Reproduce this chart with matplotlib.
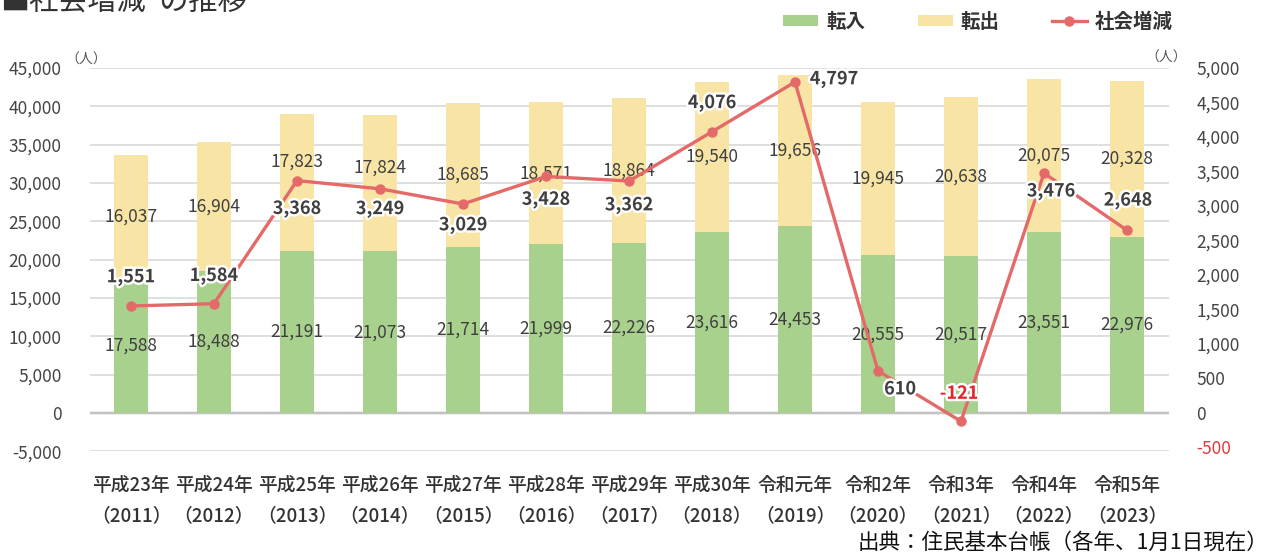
import matplotlib
matplotlib.use("Agg")
import matplotlib.pyplot as plt
import matplotlib.patheffects as pe
from matplotlib.patches import Patch
from matplotlib.lines import Line2D

plt.rcParams['font.family'] = ['Noto Sans CJK JP', 'DejaVu Sans']

# ---- data ----
categories = ["平成23年", "平成24年", "平成25年", "平成26年", "平成27年", "平成28年",
              "平成29年", "平成30年", "令和元年", "令和2年", "令和3年", "令和4年", "令和5年"]
years = ["2011", "2012", "2013", "2014", "2015", "2016", "2017", "2018", "2019",
         "2020", "2021", "2022", "2023"]
tennyu = [17588, 18488, 21191, 21073, 21714, 21999, 22226, 23616, 24453, 20555, 20517, 23551, 22976]
tenshutsu = [16037, 16904, 17823, 17824, 18685, 18571, 18864, 19540, 19656, 19945, 20638, 20075, 20328]
shakai = [1551, 1584, 3368, 3249, 3029, 3428, 3362, 4076, 4797, 610, -121, 3476, 2648]

# label placement (pixel offsets), kept separate from data
out_label_dy = [0, 0, 21, 15, 0, 0, 0, 0, 0, 0, 0, 0, 0]
net_label_off = [(0, 29), (0, 28), (0, -28), (0, -20), (0, -21), (0, -23), (0, -24),
                 (0, 29), (39, 3), (22, -18), (-2, 28), (7, -18), (1, 30)]

GREEN = "#a9d18e"
YELLOW = "#f8e5a5"
RED = "#e46a6a"
TXT = "#3f3f3f"

W, H = 1271, 554
fig = plt.figure(figsize=(W / 100, H / 100), dpi=100)
ax = fig.add_axes([89.5 / W, 1 - 451.3 / H, (1168.5 - 89.5) / W, (451.3 - 68) / H])
ax2 = ax.twinx()

x = list(range(len(categories)))
bw = 0.4
ax.bar(x, tennyu, width=bw, color=GREEN, zorder=2)
ax.bar(x, tenshutsu, width=bw, bottom=tennyu, color=YELLOW, zorder=2)

ax.set_xlim(-0.5, len(categories) - 0.5)
ax.set_ylim(-5000, 45000)
ax.set_yticks(range(-5000, 45001, 5000))
ax.set_yticklabels([f"{v:,}" for v in range(-5000, 45001, 5000)])
ax.grid(axis='y', color="#d9d9d9", lw=1.2, zorder=0)
ax.axhline(0, color="#555555", lw=1.6, zorder=1)
for s in ax.spines.values():
    s.set_visible(False)
for s in ax2.spines.values():
    s.set_visible(False)
ax.tick_params(axis='y', length=0, pad=20, labelsize=12.5, labelcolor="#444444")
ax.tick_params(axis='x', length=0, pad=18, labelsize=13.5, labelcolor="#333333")
ax.set_xticks(x)
ax.set_xticklabels([f"{c}\n（{y}）" for c, y in zip(categories, years)],
                   linespacing=1.75, fontweight='medium')

# bar labels
for i in x:
    ax.text(i, tennyu[i] / 2, f"{tennyu[i]:,}", ha='center', va='center',
            fontsize=12.5, color=TXT, zorder=3)
    ax.annotate(f"{tenshutsu[i]:,}", (i, tennyu[i] + tenshutsu[i] / 2),
                xytext=(0, out_label_dy[i]), textcoords='offset pixels',
                ha='center', va='center', fontsize=12.5, color=TXT, zorder=3)

# line
ax2.set_ylim(-5000 / 9, 5000)
ax2.set_yticks(range(-500, 5001, 500))
ax2.set_yticklabels([f"{v:,}" for v in range(-500, 5001, 500)])
ax2.tick_params(axis='y', length=0, pad=20, labelsize=12.5, labelcolor="#444444")
for t in ax2.get_yticklabels():
    if t.get_text().startswith("-"):
        t.set_color("#e03a3a")
ax2.plot(x, shakai, color=RED, lw=2.4, marker='o', markersize=6.5, zorder=4)
for i in x:
    dx, dy = net_label_off[i]
    col = "#e8202a" if shakai[i] < 0 else TXT
    ax2.annotate(f"{shakai[i]:,}", (i, shakai[i]), xytext=(dx, dy),
                 textcoords='offset pixels', ha='center', va='center',
                 fontsize=13, fontweight='bold', color=col, zorder=5,
                 path_effects=[pe.withStroke(linewidth=3.5, foreground='white')])

# unit labels
fig.text(86 / W, 1 - 60 / H, "（人）", fontsize=10, color="#555555", ha='center', va='center')
fig.text(1166 / W, 1 - 58 / H, "（人）", fontsize=10, color="#555555", ha='center', va='center')

# title (partly cut at the top, as in the reference)
fig.text(0, 1 - 17 / H, "■社会増減*の推移", fontsize=21, color="#333333",
         ha='left', va='bottom')

# legend
handles = [Patch(facecolor=GREEN, edgecolor='none'),
           Patch(facecolor=YELLOW, edgecolor='none'),
           Line2D([0], [0], color=RED, lw=2.4, marker='o', markersize=6.5)]
fig.legend(handles, ["転入", "転出", "社会増減"], ncol=3, loc='center',
           bbox_to_anchor=(978 / W, 1 - 22 / H), frameon=False,
           prop={'size': 14, 'weight': 'bold'}, labelcolor="#333333",
           handlelength=1.8, handleheight=0.5, handletextpad=0.4, columnspacing=2.7)

# source
fig.text(1268 / W, 1 - 543 / H, "出典：住民基本台帳（各年、1月1日現在）",
         fontsize=15.5, color="#111111", ha='right', va='center')

fig.savefig("out.png", dpi=100)
